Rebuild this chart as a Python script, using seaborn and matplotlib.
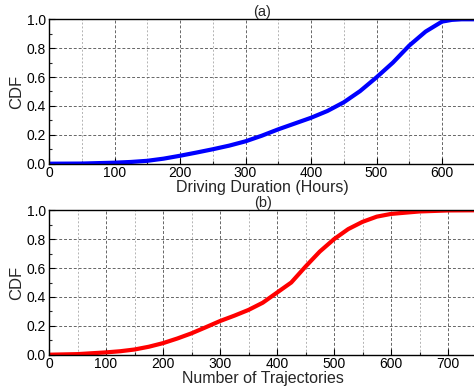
import matplotlib
matplotlib.use("Agg")
import matplotlib.pyplot as plt
import seaborn as sns
import pandas as pd
from matplotlib.ticker import MultipleLocator, FormatStrFormatter

# Data
dur_hours = [0, 50, 100, 125, 150, 175, 200, 225, 250, 275, 300, 325, 350, 375, 400,
             425, 450, 475, 500, 525, 550, 575, 600, 615, 630, 650]
dur_cdf = [0.0, 0.001, 0.007, 0.012, 0.02, 0.035, 0.055, 0.077, 0.10, 0.125, 0.155, 0.194,
           0.238, 0.278, 0.318, 0.365, 0.425, 0.503, 0.598, 0.70, 0.818, 0.915, 0.984,
           0.996, 1.0, 1.0]

traj_num = [0, 50, 100, 125, 150, 175, 200, 225, 250, 275, 300, 325, 350, 375, 400, 425,
            450, 475, 500, 525, 550, 575, 600, 650, 700, 750]
traj_cdf = [0.0, 0.004, 0.016, 0.024, 0.036, 0.055, 0.08, 0.112, 0.148, 0.19, 0.233, 0.27,
            0.31, 0.36, 0.43, 0.50, 0.61, 0.714, 0.80, 0.87, 0.92, 0.956, 0.975, 0.992,
            0.999, 1.0]

sns.set_style("white")
plt.rcParams['font.family'] = ['Liberation Sans', 'DejaVu Sans']

fig = plt.figure(figsize=(4.74, 3.9), dpi=100)
ax1 = fig.add_axes([49/474, 1 - 163.7/390, 425.75/474, 144.4/390])
ax2 = fig.add_axes([49/474, 1 - 354.7/390, 427.5/474, 144.4/390])

df1 = pd.DataFrame({"x": dur_hours, "y": dur_cdf})
df2 = pd.DataFrame({"x": traj_num, "y": traj_cdf})

sns.lineplot(data=df1, x="x", y="y", ax=ax1, color="#0000ff", lw=3.0)
sns.lineplot(data=df2, x="x", y="y", ax=ax2, color="#ff0000", lw=3.0)

for ax, xmax, xlabel, title in [(ax1, 650, "Driving Duration (Hours)", "(a)"),
                                (ax2, 750, "Number of Trajectories", "(b)")]:
    ax.set_xlim(0, xmax)
    ax.set_ylim(0, 1.0)
    ax.xaxis.set_major_locator(MultipleLocator(100))
    ax.xaxis.set_minor_locator(MultipleLocator(50))
    ax.yaxis.set_major_locator(MultipleLocator(0.2))
    ax.yaxis.set_minor_locator(MultipleLocator(0.1))
    ax.yaxis.set_major_formatter(FormatStrFormatter("%.1f"))
    ax.tick_params(axis="both", which="major", direction="in", length=4, width=0.8,
                   labelsize=10, pad=2, colors="black", bottom=True, left=True)
    ax.tick_params(axis="both", which="minor", direction="in", length=2.5, width=0.8,
                   bottom=True, left=True)
    ax.grid(which="major", linestyle=(0, (3, 2)), color="0.4", lw=0.7)
    ax.grid(which="minor", axis="x", linestyle=(0, (2, 2)), color="0.7", lw=0.7)
    ax.set_axisbelow(True)
    for s in ["left", "top", "bottom"]:
        ax.spines[s].set_visible(True)
        ax.spines[s].set_color("black")
        ax.spines[s].set_linewidth(1.0)
    ax.spines["right"].set_visible(False)
    ax.set_xlabel(xlabel, fontsize=11.5, labelpad=0)
    ax.set_ylabel("CDF", fontsize=12, labelpad=2)
    ax.set_title(title, fontsize=10.5, pad=1)

fig.savefig("out.png", dpi=100)
